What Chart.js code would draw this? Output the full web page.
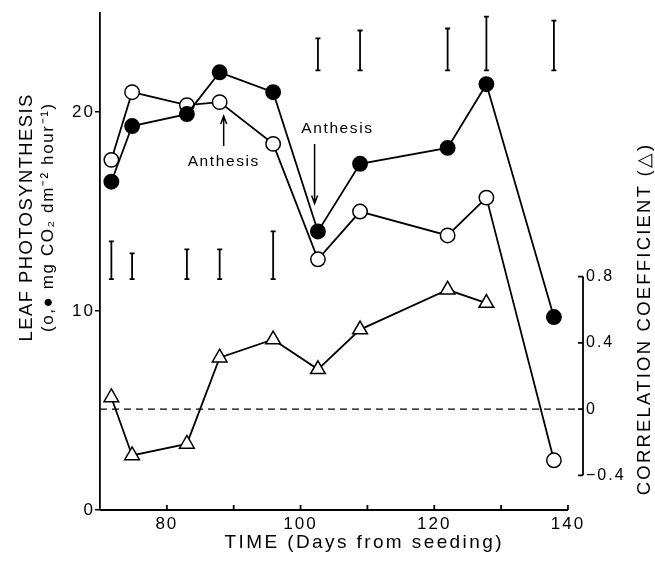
<!DOCTYPE html>
<html>
<head>
<meta charset="utf-8">
<script src="https://cdn.jsdelivr.net/npm/chart.js@4/dist/chart.umd.min.js"></script>
<style>
  html, body { margin: 0; padding: 0; background: #fff; }
  canvas { display: block; }
</style>
</head>
<body>
<canvas id="myChart" width="655" height="563" style="width:655px;height:563px"></canvas>
<script>
// sampling dates (days from seeding)
var days = [71.7, 74.8, 83.0, 87.9, 95.9, 102.6, 108.9, 122.0, 127.8, 137.9];
// leaf photosynthesis, mg CO2 dm-2 hour-1
var filled = [16.5, 19.3, 19.9, 22.0, 21.0, 14.0, 17.4, 18.2, 21.4, 9.7];
var open = [17.6, 21.0, 20.35, 20.5, 18.4, 12.6, 15.0, 13.8, 15.7, 2.5];
// correlation coefficient (triangles), no value on the last date
var corr = [0.07, -0.28, -0.21, 0.31, 0.42, 0.24, 0.48, 0.72, 0.64];
// vertical bars (LSD) drawn on each date, in photosynthesis units
var barLow = [11.6, 11.6, 11.6, 11.6, 11.6, 22.1, 22.1, 22.1, 22.1, 22.1];
var barHigh = [13.5, 12.9, 13.1, 13.1, 14.0, 23.7, 24.1, 24.2, 24.8, 24.6];
// ticks
var xTicks = [80, 90, 100, 110, 120, 130, 140];
var xLabels = [80, 100, 120, 140];
var yTicks = [0, 10, 20];
var corrTicks = [-0.4, 0, 0.4, 0.8];
// anthesis marks: [label day, label value, arrow day, arrow from, arrow to]
var anthesis = [
    [88.4, 17.5, 88.5, 18.3, 19.8],
    [105.4, 19.15, 102.1, 18.4, 15.4]
];

var font_family = "'Liberation Sans', Arial, Helvetica, sans-serif";

function points(xs, ys) {
    var out = [];
    for (let i = 0; i < ys.length; i++) {
        out.push({x: xs[i], y: ys[i]});
    }
    return out;
}

function bar_points() {
    var out = [];
    for (let i = 0; i < days.length; i++) {
        out.push({x: days[i], y: barLow[i]});
        out.push({x: days[i], y: barHigh[i]});
        out.push({x: days[i], y: null});
    }
    return out;
}

function draw_text(ctx, text, x, y, size, spacing, angle) {
    ctx.save();
    ctx.translate(x, y);
    ctx.rotate(angle || 0);
    ctx.font = size + "px " + font_family;
    ctx.letterSpacing = spacing + "px";
    ctx.textAlign = "center";
    ctx.textBaseline = "middle";
    ctx.fillStyle = "#000";
    ctx.fillText(text, spacing / 2, 0);
    ctx.restore();
}

var extras = {
    id: 'extras',
    beforeDraw: function (chart) {
        chart.ctx.letterSpacing = "2px";
    },
    afterDraw: function (chart) {
        var ctx = chart.ctx;
        var x = chart.scales.x, y = chart.scales.y, y2 = chart.scales.y2;
        ctx.save();
        ctx.strokeStyle = "#000";
        ctx.lineWidth = 1.8;
        ctx.beginPath();
        // bottom axis, stops at day 140
        var yb = y.getPixelForValue(0);
        ctx.moveTo(x.getPixelForValue(70), yb);
        ctx.lineTo(x.getPixelForValue(140), yb);
        xTicks.forEach(function (t) {
            var px = x.getPixelForValue(t);
            ctx.moveTo(px, yb);
            ctx.lineTo(px, yb - 5);
        });
        // right axis only spans -0.4 .. 0.8
        var rx = chart.chartArea.right;
        ctx.moveTo(rx, y2.getPixelForValue(0.8));
        ctx.lineTo(rx, y2.getPixelForValue(-0.4));
        corrTicks.forEach(function (t) {
            var py = y2.getPixelForValue(t);
            ctx.moveTo(rx - 5, py);
            ctx.lineTo(rx, py);
        });
        ctx.stroke();

        // anthesis arrows
        ctx.lineWidth = 1.5;
        anthesis.forEach(function (a) {
            var ax = x.getPixelForValue(a[2]);
            var y0 = y.getPixelForValue(a[3]);
            var y1 = y.getPixelForValue(a[4]);
            var dir = y1 < y0 ? 1 : -1;
            ctx.beginPath();
            ctx.moveTo(ax, y0);
            ctx.lineTo(ax, y1);
            ctx.moveTo(ax - 3, y1 + dir * 8);
            ctx.lineTo(ax, y1);
            ctx.lineTo(ax + 3, y1 + dir * 8);
            ctx.stroke();
            draw_text(ctx, "Anthesis", x.getPixelForValue(a[0]), y.getPixelForValue(a[1]), 15.5, 1.6);
        });
        ctx.restore();

        // axis titles
        draw_text(ctx, "TIME (Days from seeding)", 363, 543, 19, 2.4);
        draw_text(ctx, "LEAF PHOTOSYNTHESIS", 27, 218, 18.5, 1.4, -Math.PI / 2);
        draw_text(ctx, "(o,\u25CF mg CO\u2082 dm\u207B\u00B2 hour\u207B\u00B9)", 48, 218, 17, 1.6, -Math.PI / 2);
        draw_text(ctx, "CORRELATION COEFFICIENT (\u25B3)", 645, 320, 18.5, 2.2, -Math.PI / 2);
    }
};

function chart_photo() {
    var ctx = document.getElementById('myChart').getContext('2d');
    var chartConfig = {
        type: 'line',
        data: {
            datasets: [
                {
                    label: 'bars',
                    data: bar_points(),
                    borderColor: '#000',
                    borderWidth: 1.8,
                    pointStyle: 'line',
                    pointRadius: 2.5,
                    pointBorderWidth: 1.8,
                    pointBorderColor: '#000',
                    spanGaps: false
                },
                {
                    label: 'zero',
                    yAxisID: 'y2',
                    data: [{x: 70, y: 0}, {x: 142.25, y: 0}],
                    borderColor: '#000',
                    borderWidth: 1.3,
                    borderDash: [7, 5],
                    pointRadius: 0
                },
                {
                    label: 'correlation',
                    yAxisID: 'y2',
                    data: points(days, corr),
                    borderColor: '#000',
                    borderWidth: 1.8,
                    pointStyle: 'triangle',
                    pointRadius: 8.5,
                    pointBorderWidth: 1.5,
                    pointBackgroundColor: '#fff',
                    pointBorderColor: '#000'
                },
                {
                    label: 'filled',
                    data: points(days, filled),
                    borderColor: '#000',
                    borderWidth: 1.8,
                    pointRadius: 7.2,
                    pointBorderWidth: 1.5,
                    pointBackgroundColor: '#000',
                    pointBorderColor: '#000'
                },
                {
                    label: 'open',
                    data: points(days, open),
                    borderColor: '#000',
                    borderWidth: 1.8,
                    pointRadius: 7.2,
                    pointBorderWidth: 1.5,
                    pointBackgroundColor: '#fff',
                    pointBorderColor: '#000'
                }
            ]
        },
        options: {
            responsive: false,
            animation: false,
            events: [],
            layout: {padding: {top: 8, left: 0, right: 0, bottom: 0}},
            scales: {
                x: {
                    type: 'linear',
                    min: 70,
                    max: 142.25,
                    afterBuildTicks: function (s) {
                        s.ticks = xTicks.map(function (v) { return {value: v}; });
                    },
                    afterFit: function (s) { s.height = 53; },
                    border: {display: false},
                    grid: {display: false, drawTicks: false},
                    ticks: {
                        padding: 4,
                        color: '#000',
                        maxRotation: 0,
                        autoSkip: false,
                        font: {size: 17, family: font_family},
                        callback: function (v) { return xLabels.indexOf(v) >= 0 ? String(v) : ''; }
                    }
                },
                y: {
                    position: 'left',
                    min: 0,
                    max: 25,
                    afterBuildTicks: function (s) {
                        s.ticks = yTicks.map(function (v) { return {value: v}; });
                    },
                    afterFit: function (s) { s.width = 100; },
                    border: {display: true, color: '#000', width: 1.8},
                    grid: {drawOnChartArea: false, drawTicks: true, tickLength: 5, color: '#000', lineWidth: 1.5},
                    ticks: {
                        padding: 0,
                        color: '#000',
                        font: {size: 17, family: font_family}
                    }
                },
                y2: {
                    position: 'right',
                    min: -0.609,
                    max: 2.393,
                    afterBuildTicks: function (s) {
                        s.ticks = corrTicks.map(function (v) { return {value: v}; });
                    },
                    afterFit: function (s) { s.width = 72; },
                    border: {display: false},
                    grid: {display: false, drawTicks: false},
                    ticks: {
                        padding: 3,
                        color: '#000',
                        font: {size: 16, family: font_family},
                        callback: function (v) { return v < 0 ? '\u2212' + Math.abs(v) : String(v); }
                    }
                }
            },
            plugins: {
                legend: {display: false},
                tooltip: {enabled: false}
            }
        },
        plugins: [extras]
    };
    return new Chart(ctx, chartConfig);
}

var chart = chart_photo();
</script>
</body>
</html>
